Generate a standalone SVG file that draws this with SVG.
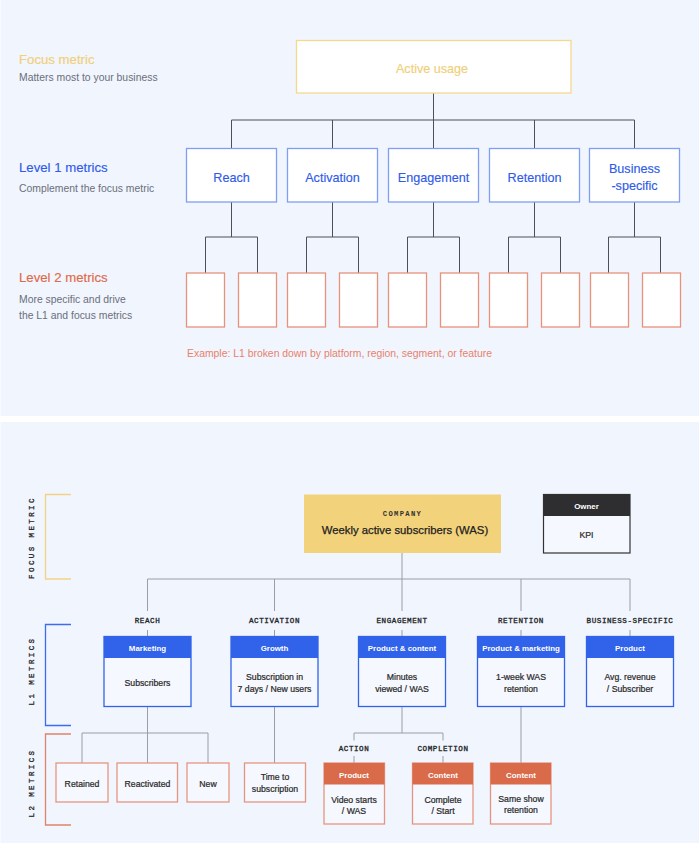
<svg xmlns="http://www.w3.org/2000/svg" width="700" height="843" viewBox="0 0 700 843">
<style>
  .sans{font-family:"Liberation Sans",Arial,sans-serif}
  .mono{font-family:"Liberation Mono","DejaVu Sans Mono",monospace}
  .h1{font-size:13.2px}
  .sub{font-size:10.4px;fill:#6b6f7a}
  .l1box{fill:#ffffff;stroke:#7f9ff5;stroke-width:1.3}
  .l1txt{font-size:12.6px;fill:#2f5be8;text-anchor:middle;stroke:#2f5be8;stroke-width:0.15}
  .l2box{fill:#ffffff;stroke:#e8917b;stroke-width:1.3}
  .conT{fill:none;stroke:#4d5058;stroke-width:1}
  .conB{fill:none;stroke:#9b9ea6;stroke-width:1}
  .lab{font-size:7.6px;letter-spacing:0.55px;fill:#222;text-anchor:middle;stroke:#222;stroke-width:0.3}
  .side{font-size:7.5px;letter-spacing:2.4px;fill:#222;text-anchor:middle;stroke:#222;stroke-width:0.3}
  .bbox{fill:#f6f8ff;stroke:#3163ea;stroke-width:1.3}
  .bhead{fill:#3163ea}
  .obox{fill:#f6f8ff;stroke:#e5957f;stroke-width:1.3}
  .ohead{fill:#d96b4b}
  .htxt{font-size:7.9px;font-weight:bold;fill:#ffffff;text-anchor:middle}
  .btxt{font-size:8.7px;fill:#2a2a2a;text-anchor:middle;stroke:#2a2a2a;stroke-width:0.22}
</style>

<!-- panels -->
<rect x="0" y="0" width="700" height="843" fill="#ffffff"/>
<rect x="0.5" y="0" width="698.5" height="416" fill="#f0f5fe"/>
<rect x="0.5" y="422" width="698.5" height="421" fill="#f0f5fe"/>

<!-- ===== TOP PANEL ===== -->
<g id="top-legend" class="sans">
  <text x="19" y="64" class="h1" fill="#f0cf78" stroke="#f0cf78" stroke-width="0.15">Focus metric</text>
  <text x="19" y="81" class="sub">Matters most to your business</text>
  <text x="19" y="172" class="h1" fill="#2f5be8" stroke="#2f5be8" stroke-width="0.15">Level 1 metrics</text>
  <text x="19" y="192" class="sub">Complement the focus metric</text>
  <text x="19" y="282" class="h1" fill="#e0694a" stroke="#e0694a" stroke-width="0.15">Level 2 metrics</text>
  <text x="19" y="303" class="sub">More specific and drive</text>
  <text x="19" y="319" class="sub">the L1 and focus metrics</text>
  <text x="187" y="357" font-size="10.4" fill="#e8826b">Example: L1 broken down by platform, region, segment, or feature</text>
</g>

<g id="top-connectors">
  <path class="conT" d="M433.5 93 V120 M231.5 120 H634.5 M231.5 120 V148.5 M332.5 120 V148.5 M433.5 120 V148.5 M534.5 120 V148.5 M634.5 120 V148.5"/>
  <path class="conT" d="M231.5 202 V237 M205.5 237 H257.5 M205.5 237 V273 M257.5 237 V273"/>
  <path class="conT" d="M332.5 202 V237 M306.5 237 H358.5 M306.5 237 V273 M358.5 237 V273"/>
  <path class="conT" d="M433.5 202 V237 M407.5 237 H459.5 M407.5 237 V273 M459.5 237 V273"/>
  <path class="conT" d="M534.5 202 V237 M508.5 237 H560.5 M508.5 237 V273 M560.5 237 V273"/>
  <path class="conT" d="M634.5 202 V237 M608.5 237 H660.5 M608.5 237 V273 M660.5 237 V273"/>
</g>

<g id="top-focus" class="sans">
  <rect x="296.5" y="40.5" width="274.5" height="52.5" fill="#ffffff" stroke="#f4d98c" stroke-width="1.3"/>
  <text x="432" y="73" font-size="12.6" fill="#f0cf78" stroke="#f0cf78" stroke-width="0.15" text-anchor="middle">Active usage</text>
</g>

<g id="top-l1-reach" class="sans"><rect class="l1box" x="186.5" y="148.5" width="90" height="53.5"/><text class="l1txt" x="231.5" y="182">Reach</text></g>
<g id="top-l1-activation" class="sans"><rect class="l1box" x="287.5" y="148.5" width="90" height="53.5"/><text class="l1txt" x="332.5" y="182">Activation</text></g>
<g id="top-l1-engagement" class="sans"><rect class="l1box" x="388.5" y="148.5" width="90" height="53.5"/><text class="l1txt" x="433.5" y="182">Engagement</text></g>
<g id="top-l1-retention" class="sans"><rect class="l1box" x="489.5" y="148.5" width="90" height="53.5"/><text class="l1txt" x="534.5" y="182">Retention</text></g>
<g id="top-l1-business" class="sans"><rect class="l1box" x="589.5" y="148.5" width="90" height="53.5"/><text class="l1txt" x="634.5" y="173">Business</text><text class="l1txt" x="634.5" y="190">-specific</text></g>

<g id="top-l2">
  <rect class="l2box" x="186.5" y="273" width="38" height="54"/>
  <rect class="l2box" x="238.5" y="273" width="38" height="54"/>
  <rect class="l2box" x="287.5" y="273" width="38" height="54"/>
  <rect class="l2box" x="339.5" y="273" width="38" height="54"/>
  <rect class="l2box" x="388.5" y="273" width="38" height="54"/>
  <rect class="l2box" x="440.5" y="273" width="38" height="54"/>
  <rect class="l2box" x="489.5" y="273" width="38" height="54"/>
  <rect class="l2box" x="541.5" y="273" width="38" height="54"/>
  <rect class="l2box" x="590.5" y="273" width="38" height="54"/>
  <rect class="l2box" x="642.5" y="273" width="38" height="54"/>
</g>

<!-- ===== BOTTOM PANEL ===== -->
<g id="side-brackets" class="mono">
  <path d="M71 494.5 H45.5 V579 H71" fill="none" stroke="#f2d383" stroke-width="1.3"/>
  <path d="M71 624.5 H45.5 V725.5 H71" fill="none" stroke="#3c6cf0" stroke-width="1.3"/>
  <path d="M71 734 H45.5 V825 H71" fill="none" stroke="#e0836a" stroke-width="1.3"/>
  <text class="side" transform="translate(33.6 537.5) rotate(-90)">FOCUS METRIC</text>
  <text class="side" transform="translate(33.6 671) rotate(-90)">L1 METRICS</text>
  <text class="side" transform="translate(33.6 783) rotate(-90)">L2 METRICS</text>
</g>

<g id="bottom-connectors">
  <path class="conB" d="M402 553 V579 M147.5 579 H630 M147.5 579 V611 M274.5 579 V611 M402 579 V611 M521 579 V611 M630 579 V611"/>
  <path class="conB" d="M147.5 630 V636.5 M274.5 630 V636.5 M402 630 V636.5 M521 630 V636.5 M630 630 V636.5"/>
  <path class="conB" d="M147.5 706.5 V763 M82 733 H208 M82 733 V763 M208 733 V763"/>
  <path class="conB" d="M274.5 706.5 V763"/>
  <path class="conB" d="M402 706.5 V733 M354 733 H443 M354 733 V740.5 M443 733 V740.5 M354 756 V763 M443 756 V763"/>
  <path class="conB" d="M521 706.5 V763"/>
</g>

<g id="company" class="sans">
  <rect x="304" y="494.5" width="197" height="58.5" fill="#f2d27a"/>
  <text x="402.5" y="516" font-size="7.2" letter-spacing="1.3" fill="#333" text-anchor="middle" class="mono" font-weight="bold">COMPANY</text>
  <text x="405" y="533.5" font-size="11.3" fill="#222" stroke="#222" stroke-width="0.25" text-anchor="middle">Weekly active subscribers (WAS)</text>
</g>

<g id="owner-legend" class="sans">
  <rect x="543.5" y="494.5" width="86.5" height="58.5" fill="#f6f8ff" stroke="#333" stroke-width="1.2"/>
  <rect x="543.5" y="494.5" width="86.5" height="21.5" fill="#2e2e30"/>
  <text x="586.5" y="508.5" class="htxt">Owner</text>
  <text x="586.5" y="537.5" class="btxt" font-size="8.4">KPI</text>
</g>

<g id="l1-reach" class="sans">
  <text class="mono lab" x="147.5" y="623">REACH</text>
  <rect class="bbox" x="104" y="636.5" width="87" height="70"/>
  <rect class="bhead" x="104" y="636.5" width="87" height="21.5"/>
  <text class="htxt" x="147.5" y="650.5">Marketing</text>
  <text class="btxt" x="147.5" y="686">Subscribers</text>
</g>
<g id="l1-activation" class="sans">
  <text class="mono lab" x="274.5" y="623">ACTIVATION</text>
  <rect class="bbox" x="231" y="636.5" width="87" height="70"/>
  <rect class="bhead" x="231" y="636.5" width="87" height="21.5"/>
  <text class="htxt" x="274.5" y="650.5">Growth</text>
  <text class="btxt" x="274.5" y="680">Subscription in</text>
  <text class="btxt" x="274.5" y="692">7 days / New users</text>
</g>
<g id="l1-engagement" class="sans">
  <text class="mono lab" x="402" y="623">ENGAGEMENT</text>
  <rect class="bbox" x="358.5" y="636.5" width="87" height="70"/>
  <rect class="bhead" x="358.5" y="636.5" width="87" height="21.5"/>
  <text class="htxt" x="402" y="650.5">Product &amp; content</text>
  <text class="btxt" x="402" y="680">Minutes</text>
  <text class="btxt" x="402" y="692">viewed / WAS</text>
</g>
<g id="l1-retention" class="sans">
  <text class="mono lab" x="521" y="623">RETENTION</text>
  <rect class="bbox" x="477.5" y="636.5" width="87" height="70"/>
  <rect class="bhead" x="477.5" y="636.5" width="87" height="21.5"/>
  <text class="htxt" x="521" y="650.5">Product &amp; marketing</text>
  <text class="btxt" x="521" y="680">1-week WAS</text>
  <text class="btxt" x="521" y="692">retention</text>
</g>
<g id="l1-business" class="sans">
  <text class="mono lab" x="630" y="623">BUSINESS-SPECIFIC</text>
  <rect class="bbox" x="586.5" y="636.5" width="87" height="70"/>
  <rect class="bhead" x="586.5" y="636.5" width="87" height="21.5"/>
  <text class="htxt" x="630" y="650.5">Product</text>
  <text class="btxt" x="630" y="680">Avg. revenue</text>
  <text class="btxt" x="630" y="692">/ Subscriber</text>
</g>

<g id="l2-retained" class="sans"><rect class="obox" x="56" y="763" width="52" height="39"/><text class="btxt" x="82" y="786.5">Retained</text></g>
<g id="l2-reactivated" class="sans"><rect class="obox" x="117" y="763" width="60.5" height="39"/><text class="btxt" x="147.5" y="786.5">Reactivated</text></g>
<g id="l2-new" class="sans"><rect class="obox" x="187" y="763" width="42" height="39"/><text class="btxt" x="208" y="786.5">New</text></g>
<g id="l2-time" class="sans"><rect class="obox" x="244.5" y="763" width="61" height="39"/><text class="btxt" x="275" y="779.5">Time to</text><text class="btxt" x="275" y="791.5">subscription</text></g>

<g id="l2-action" class="sans">
  <text class="mono lab" x="354" y="751">ACTION</text>
  <rect class="obox" x="324" y="763" width="60.5" height="61"/>
  <rect class="ohead" x="324" y="763" width="60.5" height="21.5"/>
  <text class="htxt" x="354" y="777.5">Product</text>
  <text class="btxt" x="354" y="802.5">Video starts</text>
  <text class="btxt" x="354" y="814">/ WAS</text>
</g>
<g id="l2-completion" class="sans">
  <text class="mono lab" x="443" y="751">COMPLETION</text>
  <rect class="obox" x="412.5" y="763" width="60.5" height="61"/>
  <rect class="ohead" x="412.5" y="763" width="60.5" height="21.5"/>
  <text class="htxt" x="443" y="777.5">Content</text>
  <text class="btxt" x="443" y="802.5">Complete</text>
  <text class="btxt" x="443" y="814">/ Start</text>
</g>
<g id="l2-sameshow" class="sans">
  <rect class="obox" x="490.5" y="763" width="60.5" height="61"/>
  <rect class="ohead" x="490.5" y="763" width="60.5" height="21.5"/>
  <text class="htxt" x="521" y="777.5">Content</text>
  <text class="btxt" x="521" y="801.5">Same show</text>
  <text class="btxt" x="521" y="813">retention</text>
</g>
</svg>
